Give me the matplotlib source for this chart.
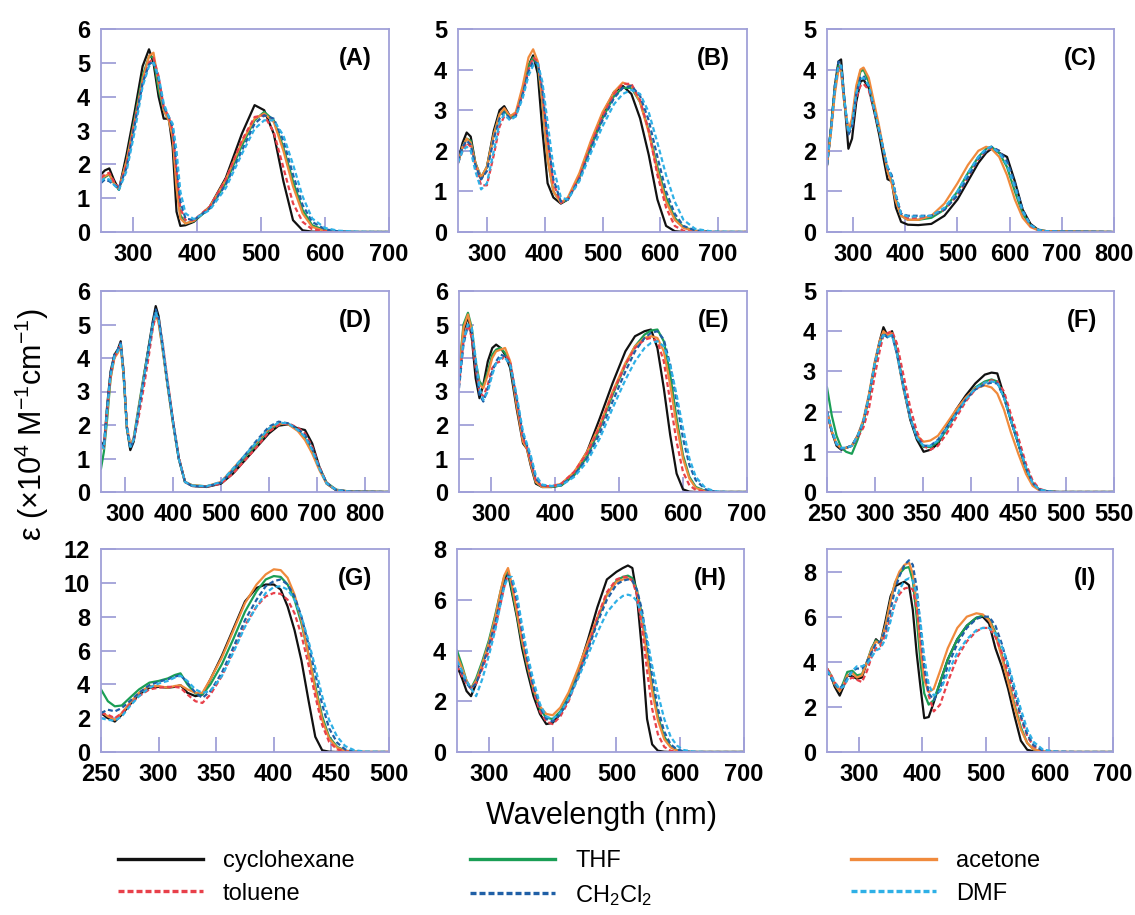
import matplotlib
matplotlib.use("Agg")
import matplotlib.pyplot as plt
from matplotlib.lines import Line2D

plt.rcParams["font.family"] = ["Liberation Sans", "DejaVu Sans"]
plt.rcParams["mathtext.fontset"] = "custom"
plt.rcParams["mathtext.rm"] = "Liberation Sans"
plt.rcParams["mathtext.it"] = "Liberation Sans:italic"
plt.rcParams["mathtext.bf"] = "Liberation Sans:bold"

# solvents, in drawing order
solvents = ["cyclohexane", "THF", "acetone", "toluene", "CH$_2$Cl$_2$", "DMF"]
colors = ["#111111", "#1a9e55", "#f08a3c", "#e8404a", "#1f5fa6", "#2eb0e6"]
dashed = [False, False, False, True, True, True]

# ---------------- panel A ----------------
wl_A = [250, 256, 263, 270, 278, 290, 303, 315, 325, 332, 340, 348, 356, 362, 368, 374,
        382, 395, 420, 445, 470, 490, 505, 520, 535, 550, 565, 580, 600, 620, 650, 700]
A_cyclohexane = [1.70, 1.82, 1.88, 1.55, 1.25, 2.3, 3.6, 4.9, 5.4, 5.0, 4.0, 3.35, 3.35, 2.5, 0.6, 0.18,
                 0.2, 0.3, 0.75, 1.6, 2.9, 3.75, 3.6, 2.9, 1.5, 0.35, 0.05, 0.01, 0, 0, 0, 0]
A_thf = [1.50, 1.62, 1.70, 1.45, 1.25, 2.1, 3.4, 4.6, 5.2, 5.15, 4.2, 3.6, 3.3, 2.9, 1.5, 0.5,
         0.25, 0.32, 0.7, 1.45, 2.55, 3.3, 3.55, 3.3, 2.5, 1.5, 0.65, 0.2, 0.05, 0.01, 0, 0]
A_acetone = [1.55, 1.65, 1.72, 1.45, 1.28, 2.1, 3.3, 4.5, 5.2, 5.3, 4.4, 3.6, 3.3, 2.8, 1.3, 0.4,
             0.25, 0.33, 0.75, 1.55, 2.65, 3.35, 3.5, 3.25, 2.4, 1.35, 0.55, 0.15, 0.03, 0, 0, 0]
A_toluene = [1.6, 1.7, 1.75, 1.5, 1.3, 2.0, 3.3, 4.4, 5.0, 5.15, 4.6, 3.7, 3.4, 3.0, 1.8, 0.7,
             0.35, 0.35, 0.75, 1.55, 2.7, 3.4, 3.45, 2.95, 1.9, 0.85, 0.3, 0.08, 0.02, 0, 0, 0]
A_ch2cl2 = [1.45, 1.55, 1.5, 1.4, 1.3, 1.9, 3.2, 4.4, 4.95, 5.05, 4.5, 3.7, 3.4, 3.1, 2.0, 0.9,
            0.4, 0.35, 0.7, 1.4, 2.4, 3.2, 3.45, 3.35, 2.7, 1.7, 0.8, 0.3, 0.08, 0.02, 0, 0]
A_dmf = [1.5, 1.6, 1.55, 1.4, 1.25, 1.8, 3.0, 4.3, 4.9, 5.0, 4.6, 3.8, 3.4, 3.2, 2.4, 1.2,
         0.55, 0.38, 0.65, 1.3, 2.3, 3.05, 3.3, 3.3, 2.85, 2.0, 1.05, 0.4, 0.12, 0.04, 0.01, 0]

# ---------------- panel B ----------------
wl_B = [250, 258, 265, 272, 280, 290, 300, 312, 322, 330, 340, 350, 362, 372, 380, 388, 396, 405,
        415, 428, 440, 460, 480, 500, 520, 535, 550, 565, 580, 595, 610, 625, 640, 660, 690, 750]
B_cyclohexane = [1.75, 2.2, 2.45, 2.35, 1.7, 1.3, 1.6, 2.5, 3.0, 3.1, 2.85, 2.9, 3.5, 4.1, 4.35, 3.9, 2.5, 1.2,
                 0.85, 0.7, 0.8, 1.4, 2.2, 2.9, 3.45, 3.6, 3.4, 2.8, 1.9, 0.8, 0.15, 0.02, 0, 0, 0, 0]
B_thf = [1.7, 2.1, 2.3, 2.25, 1.7, 1.35, 1.6, 2.4, 2.9, 3.0, 2.8, 2.9, 3.5, 4.1, 4.3, 4.1, 3.2, 1.8,
         1.0, 0.72, 0.8, 1.35, 2.1, 2.8, 3.35, 3.55, 3.55, 3.2, 2.5, 1.6, 0.85, 0.35, 0.12, 0.03, 0, 0]
B_acetone = [1.7, 2.1, 2.3, 2.2, 1.7, 1.35, 1.6, 2.4, 2.9, 3.05, 2.85, 2.95, 3.6, 4.3, 4.5, 4.2, 3.2, 1.8,
             1.0, 0.72, 0.85, 1.45, 2.25, 2.95, 3.45, 3.68, 3.6, 3.2, 2.45, 1.5, 0.75, 0.3, 0.1, 0.02, 0, 0]
B_toluene = [1.7, 2.0, 2.2, 2.1, 1.6, 1.15, 1.15, 1.9, 2.6, 2.85, 2.8, 2.9, 3.4, 4.0, 4.3, 4.2, 3.5, 2.3,
             1.2, 0.72, 0.8, 1.35, 2.15, 2.85, 3.4, 3.65, 3.65, 3.25, 2.5, 1.4, 0.6, 0.15, 0.03, 0, 0, 0]
B_ch2cl2 = [1.75, 2.1, 2.25, 2.15, 1.65, 1.3, 1.5, 2.3, 2.8, 2.95, 2.8, 2.85, 3.4, 3.95, 4.2, 4.15, 3.5, 2.3,
            1.3, 0.75, 0.8, 1.3, 2.05, 2.75, 3.3, 3.55, 3.6, 3.35, 2.75, 1.85, 1.0, 0.45, 0.15, 0.04, 0, 0]
B_dmf = [1.7, 2.0, 2.1, 2.0, 1.5, 1.05, 1.2, 2.0, 2.7, 2.9, 2.75, 2.85, 3.3, 3.85, 4.1, 4.15, 3.7, 2.7,
         1.6, 0.85, 0.8, 1.25, 1.95, 2.6, 3.15, 3.4, 3.5, 3.4, 2.95, 2.2, 1.4, 0.75, 0.3, 0.08, 0.01, 0]

# ---------------- panel C ----------------
wl_C = [250, 258, 265, 272, 277, 283, 291, 298, 306, 314, 320, 330, 340, 350, 360, 366, 374, 382, 392,
        405, 425, 450, 475, 500, 520, 540, 555, 565, 580, 595, 610, 625, 640, 655, 670, 700, 800]
C_cyclohexane = [1.65, 2.6, 3.6, 4.2, 4.25, 3.3, 2.05, 2.3, 3.2, 3.7, 3.75, 3.55, 3.0, 2.4, 1.7, 1.3, 1.25, 0.6, 0.25,
                 0.18, 0.17, 0.2, 0.4, 0.8, 1.25, 1.7, 1.95, 2.05, 1.95, 1.85, 1.25, 0.55, 0.2, 0.05, 0.02, 0.01, 0]
C_thf = [1.65, 2.6, 3.5, 4.1, 4.0, 3.2, 2.45, 2.7, 3.5, 3.95, 4.0, 3.7, 3.1, 2.5, 1.9, 1.5, 1.25, 0.8, 0.4,
         0.3, 0.3, 0.35, 0.55, 1.0, 1.45, 1.85, 2.05, 2.1, 1.95, 1.6, 1.0, 0.45, 0.15, 0.05, 0.02, 0.01, 0]
C_acetone = [1.65, 2.5, 3.4, 4.0, 3.95, 3.2, 2.5, 2.8, 3.6, 4.0, 4.05, 3.8, 3.2, 2.6, 1.9, 1.5, 1.2, 0.75, 0.4,
             0.3, 0.3, 0.4, 0.7, 1.2, 1.65, 2.0, 2.1, 2.05, 1.85, 1.4, 0.8, 0.35, 0.12, 0.04, 0.02, 0.01, 0]
C_toluene = [1.65, 2.55, 3.5, 4.1, 4.05, 3.25, 2.4, 2.6, 3.3, 3.6, 3.65, 3.5, 3.0, 2.5, 1.9, 1.55, 1.35, 0.9, 0.45,
             0.35, 0.35, 0.4, 0.55, 0.9, 1.35, 1.8, 2.0, 2.08, 2.0, 1.7, 1.1, 0.5, 0.15, 0.05, 0.02, 0.01, 0]
C_ch2cl2 = [1.65, 2.6, 3.6, 4.2, 4.15, 3.3, 2.4, 2.6, 3.4, 3.8, 3.85, 3.6, 3.05, 2.5, 1.9, 1.6, 1.4, 0.9, 0.45,
            0.4, 0.4, 0.4, 0.55, 0.9, 1.35, 1.8, 2.0, 2.1, 2.0, 1.75, 1.2, 0.55, 0.18, 0.06, 0.02, 0.01, 0]
C_dmf = [1.65, 2.55, 3.5, 4.1, 4.1, 3.3, 2.45, 2.65, 3.4, 3.75, 3.8, 3.6, 3.05, 2.5, 1.95, 1.6, 1.35, 0.9, 0.45,
         0.38, 0.38, 0.4, 0.6, 1.0, 1.45, 1.85, 2.05, 2.1, 1.95, 1.65, 1.1, 0.5, 0.17, 0.05, 0.02, 0.01, 0]

# ---------------- panel D ----------------
wl_D = [250, 256, 263, 270, 278, 285, 291, 297, 304, 311, 318, 328, 340, 350, 358, 364, 370, 378, 388, 400,
        412, 425, 440, 470, 500, 525, 550, 575, 600, 620, 640, 660, 675, 690, 705, 720, 740, 770, 850]
D_cyclohexane = [1.5, 1.35, 2.6, 3.6, 4.1, 4.25, 4.5, 3.6, 1.9, 1.25, 1.5, 2.4, 3.5, 4.4, 5.1, 5.55, 5.25, 4.4, 3.3, 2.1,
                 1.0, 0.3, 0.18, 0.15, 0.25, 0.55, 0.95, 1.35, 1.75, 1.98, 2.02, 1.9, 1.85, 1.45, 0.75, 0.25, 0.05, 0.01, 0]
D_thf = [0.7, 1.2, 2.2, 3.4, 4.05, 4.2, 4.4, 3.5, 1.9, 1.35, 1.6, 2.5, 3.55, 4.35, 5.0, 5.35, 5.1, 4.3, 3.25, 2.05,
         1.0, 0.3, 0.2, 0.17, 0.28, 0.65, 1.05, 1.45, 1.85, 2.03, 2.03, 1.85, 1.6, 1.2, 0.7, 0.28, 0.07, 0.01, 0]
D_acetone = [1.3, 1.3, 2.4, 3.4, 4.0, 4.15, 4.35, 3.5, 1.95, 1.4, 1.6, 2.45, 3.5, 4.3, 4.95, 5.3, 5.05, 4.3, 3.25, 2.05,
             1.0, 0.3, 0.2, 0.17, 0.3, 0.7, 1.1, 1.5, 1.9, 2.05, 2.02, 1.82, 1.55, 1.15, 0.65, 0.25, 0.06, 0.01, 0]
D_toluene = [1.4, 1.35, 2.5, 3.5, 4.05, 4.2, 4.45, 3.6, 2.0, 1.4, 1.55, 2.2, 3.2, 4.1, 4.9, 5.25, 5.15, 4.5, 3.4, 2.15,
             1.05, 0.3, 0.18, 0.16, 0.25, 0.55, 0.95, 1.35, 1.8, 2.0, 2.05, 1.92, 1.75, 1.35, 0.75, 0.28, 0.06, 0.01, 0]
D_ch2cl2 = [1.45, 1.35, 2.55, 3.55, 4.1, 4.25, 4.45, 3.55, 1.9, 1.3, 1.55, 2.4, 3.45, 4.35, 5.05, 5.45, 5.2, 4.4, 3.3, 2.1,
            1.0, 0.3, 0.18, 0.16, 0.28, 0.65, 1.1, 1.55, 1.95, 2.1, 2.05, 1.88, 1.7, 1.3, 0.72, 0.27, 0.06, 0.01, 0]
D_dmf = [1.4, 1.3, 2.5, 3.5, 4.05, 4.2, 4.4, 3.55, 1.95, 1.35, 1.55, 2.4, 3.45, 4.3, 5.0, 5.35, 5.15, 4.4, 3.3, 2.1,
         1.0, 0.3, 0.19, 0.17, 0.3, 0.7, 1.1, 1.5, 1.9, 2.07, 2.05, 1.85, 1.65, 1.25, 0.7, 0.26, 0.06, 0.01, 0]

# ---------------- panel E ----------------
wl_E = [250, 257, 264, 270, 276, 282, 288, 295, 302, 308, 315, 322, 330, 340, 350, 356, 362, 370, 380, 395,
        410, 430, 450, 470, 490, 510, 525, 540, 550, 560, 570, 580, 590, 600, 610, 620, 635, 650, 670, 700]
E_cyclohexane = [3.5, 4.8, 5.25, 4.6, 3.4, 2.8, 3.2, 3.9, 4.3, 4.4, 4.3, 4.1, 3.7, 2.5, 1.45, 1.3, 0.8, 0.25, 0.15, 0.15,
                 0.2, 0.55, 1.2, 2.2, 3.25, 4.2, 4.65, 4.8, 4.85, 4.3, 3.1, 1.7, 0.55, 0.08, 0.01, 0, 0, 0, 0, 0]
E_thf = [3.6, 5.0, 5.35, 4.9, 3.9, 3.3, 3.15, 3.6, 4.1, 4.25, 4.3, 4.15, 3.8, 2.7, 1.6, 1.35, 0.9, 0.3, 0.15, 0.15,
         0.2, 0.5, 1.05, 1.9, 2.9, 3.8, 4.35, 4.7, 4.82, 4.85, 4.5, 3.5, 2.2, 1.1, 0.45, 0.15, 0.03, 0, 0, 0]
E_acetone = [3.5, 4.9, 5.3, 4.8, 3.8, 3.2, 3.1, 3.5, 4.0, 4.2, 4.25, 4.3, 3.9, 2.6, 1.5, 1.3, 0.85, 0.3, 0.15, 0.16,
             0.25, 0.6, 1.2, 2.0, 3.0, 3.85, 4.35, 4.6, 4.65, 4.6, 4.2, 3.2, 2.0, 1.0, 0.4, 0.12, 0.02, 0, 0, 0]
E_toluene = [3.2, 4.5, 5.0, 4.6, 3.7, 3.0, 2.85, 3.2, 3.7, 3.85, 3.9, 4.1, 3.9, 2.8, 1.6, 1.35, 0.95, 0.35, 0.18, 0.17,
             0.25, 0.6, 1.15, 1.95, 2.95, 3.8, 4.3, 4.55, 4.6, 4.5, 3.9, 2.7, 1.5, 0.6, 0.2, 0.06, 0.01, 0, 0, 0]
E_ch2cl2 = [3.1, 4.4, 5.0, 4.8, 3.8, 2.9, 2.7, 3.1, 3.6, 3.9, 4.1, 4.05, 3.8, 2.8, 1.7, 1.4, 1.0, 0.4, 0.2, 0.17,
            0.22, 0.5, 1.0, 1.75, 2.7, 3.6, 4.2, 4.6, 4.75, 4.8, 4.55, 3.8, 2.7, 1.6, 0.8, 0.35, 0.08, 0.01, 0, 0]
E_dmf = [3.3, 4.5, 5.0, 4.9, 4.0, 3.1, 2.75, 3.0, 3.5, 3.85, 4.0, 4.0, 3.8, 2.9, 1.8, 1.45, 1.1, 0.5, 0.22, 0.18,
         0.2, 0.45, 0.9, 1.6, 2.5, 3.35, 3.9, 4.3, 4.45, 4.5, 4.35, 3.8, 2.9, 1.9, 1.0, 0.45, 0.12, 0.02, 0, 0]

# ---------------- panel F ----------------
wl_F = [250, 255, 260, 265, 270, 276, 282, 288, 294, 300, 305, 309, 313, 318, 323, 330, 337, 344, 351,
        358, 366, 375, 385, 395, 405, 415, 422, 428, 435, 442, 450, 458, 465, 472, 480, 490, 510, 550]
F_cyclohexane = [2.0, 1.5, 1.15, 1.05, 1.1, 1.15, 1.4, 1.75, 2.4, 3.2, 3.75, 4.1, 3.9, 4.0, 3.5, 2.6, 1.8, 1.3, 1.0,
                 1.05, 1.2, 1.6, 2.05, 2.4, 2.7, 2.92, 2.97, 2.95, 2.4, 1.8, 1.2, 0.55, 0.2, 0.05, 0.02, 0, 0, 0]
F_thf = [2.6, 1.9, 1.4, 1.1, 1.0, 0.95, 1.3, 1.75, 2.4, 3.2, 3.7, 3.95, 3.85, 3.95, 3.5, 2.6, 1.85, 1.35, 1.12,
         1.12, 1.25, 1.55, 1.95, 2.3, 2.6, 2.75, 2.8, 2.75, 2.35, 1.8, 1.2, 0.6, 0.22, 0.06, 0.02, 0, 0, 0]
F_acetone = [2.0, 1.5, 1.2, 1.08, 1.1, 1.15, 1.4, 1.8, 2.45, 3.25, 3.75, 4.0, 3.9, 3.95, 3.45, 2.55, 1.85, 1.4, 1.25,
             1.28, 1.4, 1.7, 2.05, 2.35, 2.58, 2.65, 2.6, 2.45, 2.05, 1.5, 0.95, 0.45, 0.15, 0.04, 0.01, 0, 0, 0]
F_toluene = [2.0, 1.5, 1.2, 1.08, 1.1, 1.15, 1.35, 1.6, 2.1, 2.9, 3.5, 3.9, 3.95, 4.0, 3.7, 2.9, 2.1, 1.5, 1.15,
             1.05, 1.15, 1.45, 1.85, 2.25, 2.55, 2.72, 2.78, 2.75, 2.5, 1.95, 1.35, 0.7, 0.28, 0.08, 0.02, 0, 0, 0]
F_ch2cl2 = [2.0, 1.5, 1.18, 1.07, 1.1, 1.15, 1.38, 1.75, 2.4, 3.2, 3.7, 3.95, 3.85, 3.9, 3.45, 2.6, 1.85, 1.35, 1.15,
            1.15, 1.3, 1.6, 1.95, 2.3, 2.55, 2.68, 2.72, 2.7, 2.35, 1.8, 1.2, 0.6, 0.22, 0.06, 0.02, 0, 0, 0]
F_dmf = [2.0, 1.55, 1.2, 1.1, 1.1, 1.15, 1.4, 1.75, 2.4, 3.2, 3.7, 3.9, 3.85, 3.9, 3.45, 2.6, 1.85, 1.35, 1.15,
         1.15, 1.28, 1.58, 1.95, 2.3, 2.58, 2.72, 2.75, 2.72, 2.35, 1.8, 1.2, 0.6, 0.22, 0.06, 0.02, 0, 0, 0]

# ---------------- panel G ----------------
wl_G = [250, 256, 262, 268, 275, 283, 292, 300, 308, 314, 319, 325, 332, 338, 345, 355, 365,
        375, 385, 393, 400, 406, 412, 418, 424, 430, 436, 442, 448, 455, 462, 470, 480, 500]
G_cyclohexane = [2.3, 2.0, 1.8, 2.2, 2.8, 3.4, 3.8, 3.85, 3.8, 3.85, 3.95, 3.5, 3.3, 3.4, 4.3, 5.7, 7.3,
                 8.9, 9.7, 9.9, 9.9, 9.6, 8.6, 7.2, 5.4, 3.1, 0.9, 0.1, 0.02, 0, 0, 0, 0, 0]
G_thf = [3.7, 3.0, 2.7, 2.75, 3.2, 3.7, 4.1, 4.2, 4.35, 4.55, 4.65, 4.0, 3.45, 3.4, 4.0, 5.2, 6.7,
         8.3, 9.5, 10.2, 10.4, 10.35, 9.9, 9.0, 7.6, 5.8, 3.9, 2.1, 0.9, 0.3, 0.08, 0.02, 0, 0]
G_acetone = [2.4, 2.1, 1.9, 2.3, 2.9, 3.5, 3.9, 3.9, 3.8, 3.9, 3.95, 3.7, 3.5, 3.5, 4.3, 5.6, 7.2,
             8.8, 9.9, 10.5, 10.8, 10.75, 10.3, 9.3, 7.8, 5.8, 3.7, 1.9, 0.8, 0.25, 0.06, 0.01, 0, 0]
G_toluene = [2.3, 2.2, 2.0, 2.3, 2.8, 3.3, 3.7, 3.8, 3.85, 3.85, 3.8, 3.4, 3.0, 2.9, 3.4, 4.5, 6.0,
             7.5, 8.6, 9.2, 9.4, 9.35, 9.0, 8.2, 6.9, 5.2, 3.3, 1.6, 0.6, 0.15, 0.03, 0, 0, 0]
G_ch2cl2 = [2.3, 2.5, 2.4, 2.6, 3.0, 3.5, 3.95, 4.15, 4.3, 4.45, 4.55, 4.1, 3.5, 3.2, 3.6, 4.7, 6.2,
            7.8, 9.0, 9.8, 10.1, 10.2, 9.9, 9.2, 8.0, 6.4, 4.6, 2.8, 1.4, 0.55, 0.15, 0.03, 0, 0]
G_dmf = [2.0, 1.9, 1.85, 2.1, 2.7, 3.3, 3.8, 4.05, 4.2, 4.4, 4.5, 4.2, 3.7, 3.5, 3.6, 4.5, 5.9,
         7.4, 8.6, 9.4, 9.75, 9.8, 9.6, 9.0, 8.0, 6.6, 5.0, 3.3, 1.9, 0.9, 0.35, 0.1, 0.02, 0]

# ---------------- panel H ----------------
wl_H = [250, 258, 265, 272, 280, 290, 300, 310, 318, 324, 330, 336, 344, 352, 360, 370, 380, 390, 400, 412, 425,
        440, 455, 470, 485, 500, 510, 518, 525, 532, 540, 548, 556, 565, 575, 585, 595, 605, 620, 640, 700]
H_cyclohexane = [3.4, 2.9, 2.4, 2.2, 2.7, 3.5, 4.3, 5.3, 6.2, 6.8, 7.05, 6.3, 5.3, 4.1, 3.2, 2.2, 1.5, 1.1, 1.15, 1.5, 2.1,
                 3.2, 4.4, 5.7, 6.8, 7.1, 7.25, 7.35, 7.25, 6.2, 4.0, 1.3, 0.3, 0.05, 0.01, 0, 0, 0, 0, 0, 0]
H_thf = [4.0, 3.4, 2.8, 2.5, 2.9, 3.6, 4.4, 5.4, 6.3, 6.9, 7.15, 6.4, 5.4, 4.3, 3.4, 2.4, 1.7, 1.35, 1.3, 1.6, 2.2,
         3.1, 4.1, 5.2, 6.2, 6.75, 6.9, 6.95, 6.85, 6.4, 5.4, 4.0, 2.6, 1.4, 0.6, 0.22, 0.07, 0.02, 0, 0, 0]
H_acetone = [3.8, 3.3, 2.8, 2.5, 2.8, 3.5, 4.3, 5.3, 6.3, 6.95, 7.25, 6.6, 5.5, 4.4, 3.5, 2.5, 1.8, 1.5, 1.45, 1.75, 2.35,
             3.3, 4.3, 5.3, 6.2, 6.7, 6.8, 6.85, 6.75, 6.3, 5.2, 3.8, 2.4, 1.25, 0.5, 0.18, 0.05, 0.01, 0, 0, 0]
H_toluene = [3.4, 3.0, 2.7, 2.5, 2.7, 3.3, 4.0, 4.9, 5.8, 6.5, 7.0, 6.7, 5.8, 4.6, 3.5, 2.4, 1.6, 1.2, 1.1, 1.4, 2.0,
             3.0, 4.1, 5.3, 6.3, 6.8, 6.9, 6.9, 6.75, 6.2, 4.9, 3.2, 1.7, 0.7, 0.2, 0.05, 0.01, 0, 0, 0, 0]
H_ch2cl2 = [3.5, 3.1, 2.7, 2.5, 2.7, 3.4, 4.2, 5.1, 6.0, 6.6, 6.95, 6.8, 6.0, 4.8, 3.7, 2.6, 1.8, 1.3, 1.2, 1.5, 2.1,
            3.0, 4.0, 5.1, 6.0, 6.6, 6.75, 6.8, 6.75, 6.4, 5.6, 4.3, 3.0, 1.7, 0.8, 0.3, 0.1, 0.03, 0, 0, 0]
H_dmf = [3.6, 3.2, 2.8, 2.5, 2.2, 2.9, 3.8, 4.8, 5.8, 6.5, 6.9, 6.9, 6.2, 5.0, 3.9, 2.8, 1.9, 1.4, 1.3, 1.55, 2.1,
         2.9, 3.8, 4.7, 5.5, 5.95, 6.15, 6.2, 6.15, 5.95, 5.4, 4.5, 3.4, 2.3, 1.3, 0.6, 0.25, 0.08, 0.02, 0, 0]

# ---------------- panel I ----------------
wl_I = [250, 256, 262, 270, 276, 282, 290, 297, 305, 313, 320, 327, 334, 342, 350, 357, 364, 372, 379, 385, 391, 397,
        403, 410, 418, 428, 440, 455, 470, 485, 495, 505, 515, 525, 535, 545, 555, 565, 575, 590, 610, 640, 700]
I_cyclohexane = [3.7, 3.4, 2.9, 2.5, 2.9, 3.4, 3.35, 3.25, 3.3, 4.0, 4.5, 5.0, 4.8, 5.8, 6.9, 7.35, 7.45, 7.55, 7.4, 6.3, 4.4, 2.9,
                 1.5, 1.55, 2.2, 3.1, 4.1, 5.0, 5.6, 5.95, 6.0, 5.7, 4.6, 3.8, 2.8, 1.6, 0.5, 0.1, 0.03, 0, 0, 0, 0]
I_thf = [3.7, 3.4, 3.0, 2.7, 3.1, 3.55, 3.6, 3.4, 3.45, 4.0, 4.6, 4.95, 4.8, 5.6, 6.7, 7.5, 7.9, 8.15, 8.2, 7.6, 6.0, 4.0,
         2.6, 2.1, 2.3, 3.1, 4.1, 5.0, 5.6, 5.95, 6.05, 5.9, 5.3, 4.3, 3.2, 2.1, 1.1, 0.4, 0.12, 0.02, 0, 0, 0]
I_acetone = [3.7, 3.4, 3.0, 2.7, 3.0, 3.4, 3.5, 3.3, 3.4, 4.0, 4.55, 4.9, 4.8, 5.6, 6.7, 7.5, 8.0, 8.3, 8.4, 7.9, 6.6, 4.6,
             3.2, 2.65, 2.8, 3.6, 4.6, 5.5, 6.0, 6.15, 6.1, 5.85, 5.2, 4.2, 3.1, 2.0, 1.0, 0.4, 0.12, 0.02, 0, 0, 0]
I_toluene = [3.7, 3.45, 3.1, 2.8, 2.9, 3.2, 3.3, 3.2, 3.1, 3.6, 4.2, 4.6, 4.7, 5.2, 6.0, 6.6, 7.0, 7.25, 7.3, 7.2, 6.4, 5.0,
             3.6, 2.5, 1.8, 2.1, 3.1, 4.2, 4.9, 5.35, 5.5, 5.5, 5.1, 4.4, 3.5, 2.5, 1.5, 0.7, 0.25, 0.05, 0.01, 0, 0]
I_ch2cl2 = [3.6, 3.3, 3.0, 2.8, 3.0, 3.3, 3.6, 3.7, 3.7, 4.0, 4.4, 4.8, 4.9, 5.4, 6.3, 7.2, 7.8, 8.3, 8.5, 8.3, 7.3, 5.6,
            3.8, 2.6, 2.3, 2.8, 3.8, 4.8, 5.5, 5.9, 6.0, 6.0, 5.6, 4.8, 3.8, 2.7, 1.6, 0.8, 0.3, 0.06, 0.01, 0, 0]
I_dmf = [3.6, 3.4, 3.1, 2.8, 2.9, 3.2, 3.6, 3.8, 3.8, 3.9, 4.2, 4.5, 4.6, 5.0, 5.8, 6.6, 7.2, 7.6, 7.7, 7.6, 7.0, 5.8,
         4.2, 3.0, 2.5, 2.7, 3.5, 4.4, 5.0, 5.4, 5.5, 5.5, 5.25, 4.7, 3.9, 2.9, 1.9, 1.0, 0.45, 0.1, 0.02, 0, 0]

# panel: label, wavelengths, curves, x range, y range, x ticks, y ticks, box in pixels (x0, y0, x1, y1)
panels = [
    ("(A)", wl_A, [A_cyclohexane, A_thf, A_acetone, A_toluene, A_ch2cl2, A_dmf],
     (250, 700), (0, 6), range(300, 701, 100), range(0, 7), (101, 29, 389, 232)),
    ("(B)", wl_B, [B_cyclohexane, B_thf, B_acetone, B_toluene, B_ch2cl2, B_dmf],
     (250, 750), (0, 5), range(300, 701, 100), range(0, 6), (458, 29, 747, 232)),
    ("(C)", wl_C, [C_cyclohexane, C_thf, C_acetone, C_toluene, C_ch2cl2, C_dmf],
     (250, 800), (0, 5), range(300, 801, 100), range(0, 6), (827, 29, 1114, 232)),
    ("(D)", wl_D, [D_cyclohexane, D_thf, D_acetone, D_toluene, D_ch2cl2, D_dmf],
     (250, 850), (0, 6), range(300, 801, 100), range(0, 7), (101, 291, 389, 492)),
    ("(E)", wl_E, [E_cyclohexane, E_thf, E_acetone, E_toluene, E_ch2cl2, E_dmf],
     (250, 700), (0, 6), range(300, 701, 100), range(0, 7), (459, 291, 747, 492)),
    ("(F)", wl_F, [F_cyclohexane, F_thf, F_acetone, F_toluene, F_ch2cl2, F_dmf],
     (250, 550), (0, 5), range(250, 551, 50), range(0, 6), (827, 291, 1114, 492)),
    ("(G)", wl_G, [G_cyclohexane, G_thf, G_acetone, G_toluene, G_ch2cl2, G_dmf],
     (250, 500), (0, 12), range(250, 501, 50), range(0, 13, 2), (101, 549, 389, 752)),
    ("(H)", wl_H, [H_cyclohexane, H_thf, H_acetone, H_toluene, H_ch2cl2, H_dmf],
     (250, 700), (0, 8), range(300, 701, 100), range(0, 9, 2), (457, 549, 744, 752)),
    ("(I)", wl_I, [I_cyclohexane, I_thf, I_acetone, I_toluene, I_ch2cl2, I_dmf],
     (250, 700), (0, 9), range(300, 701, 100), range(0, 9, 2), (827, 549, 1113, 752)),
]

W, H = 1135, 915
frame = "#a0a0d8"
fig = plt.figure(figsize=(W / 100, H / 100), dpi=100)

for label, wl, curves, xr, yr, xt, yt, box in panels:
    x0, y0, x1, y1 = box
    ax = fig.add_axes([x0 / W, 1 - y1 / H, (x1 - x0) / W, (y1 - y0) / H])
    for vals, c, d in zip(curves, colors, dashed):
        if d:
            ax.plot(wl, vals, color=c, lw=1.6, dashes=(2.2, 1.3))
        else:
            ax.plot(wl, vals, color=c, lw=1.6)
    ax.set_xlim(*xr)
    ax.set_ylim(*yr)
    ax.set_xticks(list(xt))
    ax.set_yticks(list(yt))
    ax.tick_params(direction="in", length=11, width=1.3, color=frame, pad=8,
                   labelsize=17)
    for t in ax.get_xticklabels() + ax.get_yticklabels():
        t.set_fontweight("bold")
    for s in ax.spines.values():
        s.set_color(frame)
        s.set_linewidth(1.3)
    ax.text(0.94, 0.855, label, transform=ax.transAxes, ha="right", va="center",
            fontsize=17, fontweight="bold")

fig.text(32 / W, 1 - 425 / H, "ε (×10$^4$ M$^{-1}$cm$^{-1}$)", rotation=90,
         ha="center", va="center", fontsize=22)
fig.text(602 / W, 1 - 816 / H, "Wavelength (nm)", ha="center", va="center", fontsize=22)

# legend: three columns, solid on the top row, dashed below
handles = []
for name, c, d in zip(solvents, colors, dashed):
    if d:
        handles.append(Line2D([], [], color=c, lw=2.4, dashes=(1.8, 0.9), label=name))
    else:
        handles.append(Line2D([], [], color=c, lw=2.4, label=name))

columns = [([handles[0], handles[3]], 118), ([handles[1], handles[4]], 470), ([handles[2], handles[5]], 851)]
for hs, xpix in columns:
    fig.legend(handles=hs, loc="upper left", bbox_to_anchor=(xpix / W, 1 - 850 / H),
               frameon=False, fontsize=17, handlelength=3.6, handletextpad=0.85,
               labelspacing=0.45, borderpad=0, borderaxespad=0)

fig.savefig("out.png", dpi=100)
